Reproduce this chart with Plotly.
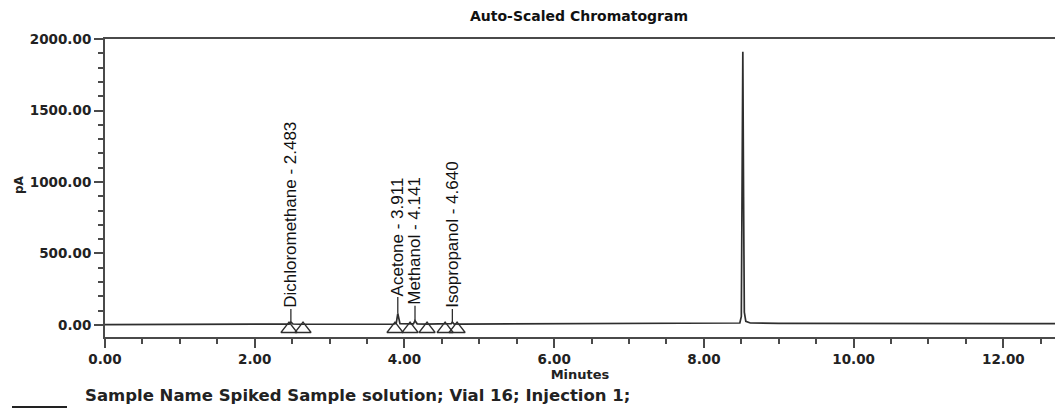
import plotly.graph_objects as go

# ---- data ----
time_min = [0.00, 1.00, 2.00, 2.40, 2.46, 2.483, 2.51, 2.60, 2.85, 3.50,
            3.85, 3.89, 3.911, 3.94, 4.05, 4.12, 4.141, 4.17, 4.30, 4.60,
            4.625, 4.640, 4.66, 4.75, 6.00, 7.50, 8.40, 8.48, 8.50, 8.51,
            8.52, 8.53, 8.54, 8.56, 8.62, 9.00, 10.00, 11.00, 12.00, 12.70]
signal_pA = [3, 3, 4, 4, 6, 20, 7, 5, 6, 5,
             5, 12, 80, 10, 6, 8, 30, 8, 6, 6,
             9, 20, 8, 6, 7, 9, 10, 14, 60, 950,
             1910, 900, 90, 25, 14, 11, 10, 10, 9, 9]

peak_names = ["Dichloromethane", "Acetone", "Methanol", "Isopropanol"]
peak_times = [2.483, 3.911, 4.141, 4.640]
peak_heights = [20, 80, 30, 20]
label_bottoms = [112, 195, 135, 112]

marker_times = [2.458, 2.645, 3.874, 4.075, 4.302, 4.543, 4.703]

x_tick_vals = [0, 2, 4, 6, 8, 10, 12]
x_tick_text = ["0.00", "2.00", "4.00", "6.00", "8.00", "10.00", "12.00"]
y_tick_vals = [0, 500, 1000, 1500, 2000]
y_tick_text = ["0.00", "500.00", "1000.00", "1500.00", "2000.00"]

title_text = "Auto-Scaled Chromatogram"
footer_text = "Sample Name Spiked Sample solution; Vial 16; Injection 1;"

W, H = 1055, 412
L, R, T, B = 105, 0, 39, 75
pw, ph = W - L - R, H - T - B

def px_x(px):
    return (px - L) / pw

def px_y(py):
    return (H - B - py) / ph

LINE = "#2e2e2e"
AXIS = "#4a4a4a"

fig = go.Figure()

fig.add_trace(go.Scatter(x=time_min, y=signal_pA, mode="lines",
                         line=dict(color=LINE, width=1.7), showlegend=False,
                         hoverinfo="skip"))

# label leader lines
lx, ly = [], []
for t, h, lb in zip(peak_times, peak_heights, label_bottoms):
    lx += [t, t, None]
    ly += [h, lb, None]
fig.add_trace(go.Scatter(x=lx, y=ly, mode="lines",
                         line=dict(color=LINE, width=1.3), showlegend=False,
                         hoverinfo="skip"))

# integration markers
fig.add_trace(go.Scatter(x=marker_times, y=[-28] * len(marker_times), mode="markers",
                         marker=dict(symbol="triangle-up-open", size=14,
                                     color=LINE, line=dict(width=1.3)),
                         showlegend=False, hoverinfo="skip"))

annotations = []
for name, t, lb in zip(peak_names, peak_times, label_bottoms):
    annotations.append(dict(x=t, y=lb, xref="x", yref="y",
                            text=f"{name} - {t:.3f}", textangle=-90,
                            showarrow=False, xanchor="center", yanchor="bottom",
                            font=dict(family="Liberation Sans, Arial", size=17, color="#111"),
                            borderpad=0))

annotations.append(dict(x=px_x(19), y=px_y(185), xref="paper", yref="paper",
                        text="<b>pA</b>", textangle=-90, showarrow=False,
                        font=dict(family="DejaVu Sans", size=12, color="#222"),
                        xanchor="center", yanchor="middle"))
annotations.append(dict(x=px_x(83), y=px_y(395), xref="paper", yref="paper",
                        text=f"<b>{footer_text}</b>", showarrow=False,
                        font=dict(family="DejaVu Sans", size=16.5, color="#222"),
                        xanchor="left", yanchor="middle"))
annotations.append(dict(x=px_x(579), y=px_y(16), xref="paper", yref="paper",
                        text=f"<b>{title_text}</b>", showarrow=False,
                        font=dict(family="DejaVu Sans", size=14, color="#111"),
                        xanchor="center", yanchor="middle"))

shapes = [dict(type="line", xref="paper", yref="paper",
               x0=px_x(12), x1=px_x(67), y0=px_y(407), y1=px_y(407),
               line=dict(color="#222", width=2))]

fig.update_layout(
    width=W, height=H,
    margin=dict(l=L, r=R, t=T, b=B, pad=0),
    paper_bgcolor="white", plot_bgcolor="white",
    annotations=annotations, shapes=shapes,
    showlegend=False,
    xaxis=dict(range=[0, 12.69], tickvals=x_tick_vals, ticktext=x_tick_text,
               ticks="outside", ticklen=9, tickwidth=1.5, tickcolor=AXIS,
               showline=True, linecolor=AXIS, linewidth=2, mirror=True,
               showgrid=False, zeroline=False,
               tickfont=dict(family="DejaVu Sans", size=13.5, color="#222", weight="bold"),
               minor=dict(dtick=0.5, tick0=0, ticks="outside", ticklen=5,
                          tickwidth=1.5, tickcolor=AXIS, showgrid=False),
               title=dict(text="<b>Minutes</b>", standoff=0,
                          font=dict(family="DejaVu Sans", size=13, color="#222"))),
    yaxis=dict(range=[-84, 2000], tickvals=y_tick_vals, ticktext=y_tick_text,
               ticks="outside", ticklen=9, tickwidth=1.5, tickcolor=AXIS,
               showline=True, linecolor=AXIS, linewidth=2,
               showgrid=False, zeroline=False,
               tickfont=dict(family="DejaVu Sans", size=13.5, color="#222", weight="bold"),
               minor=dict(dtick=100, tick0=0, ticks="outside", ticklen=5,
                          tickwidth=1.5, tickcolor=AXIS, showgrid=False)),
)

fig.write_html("out.html")
